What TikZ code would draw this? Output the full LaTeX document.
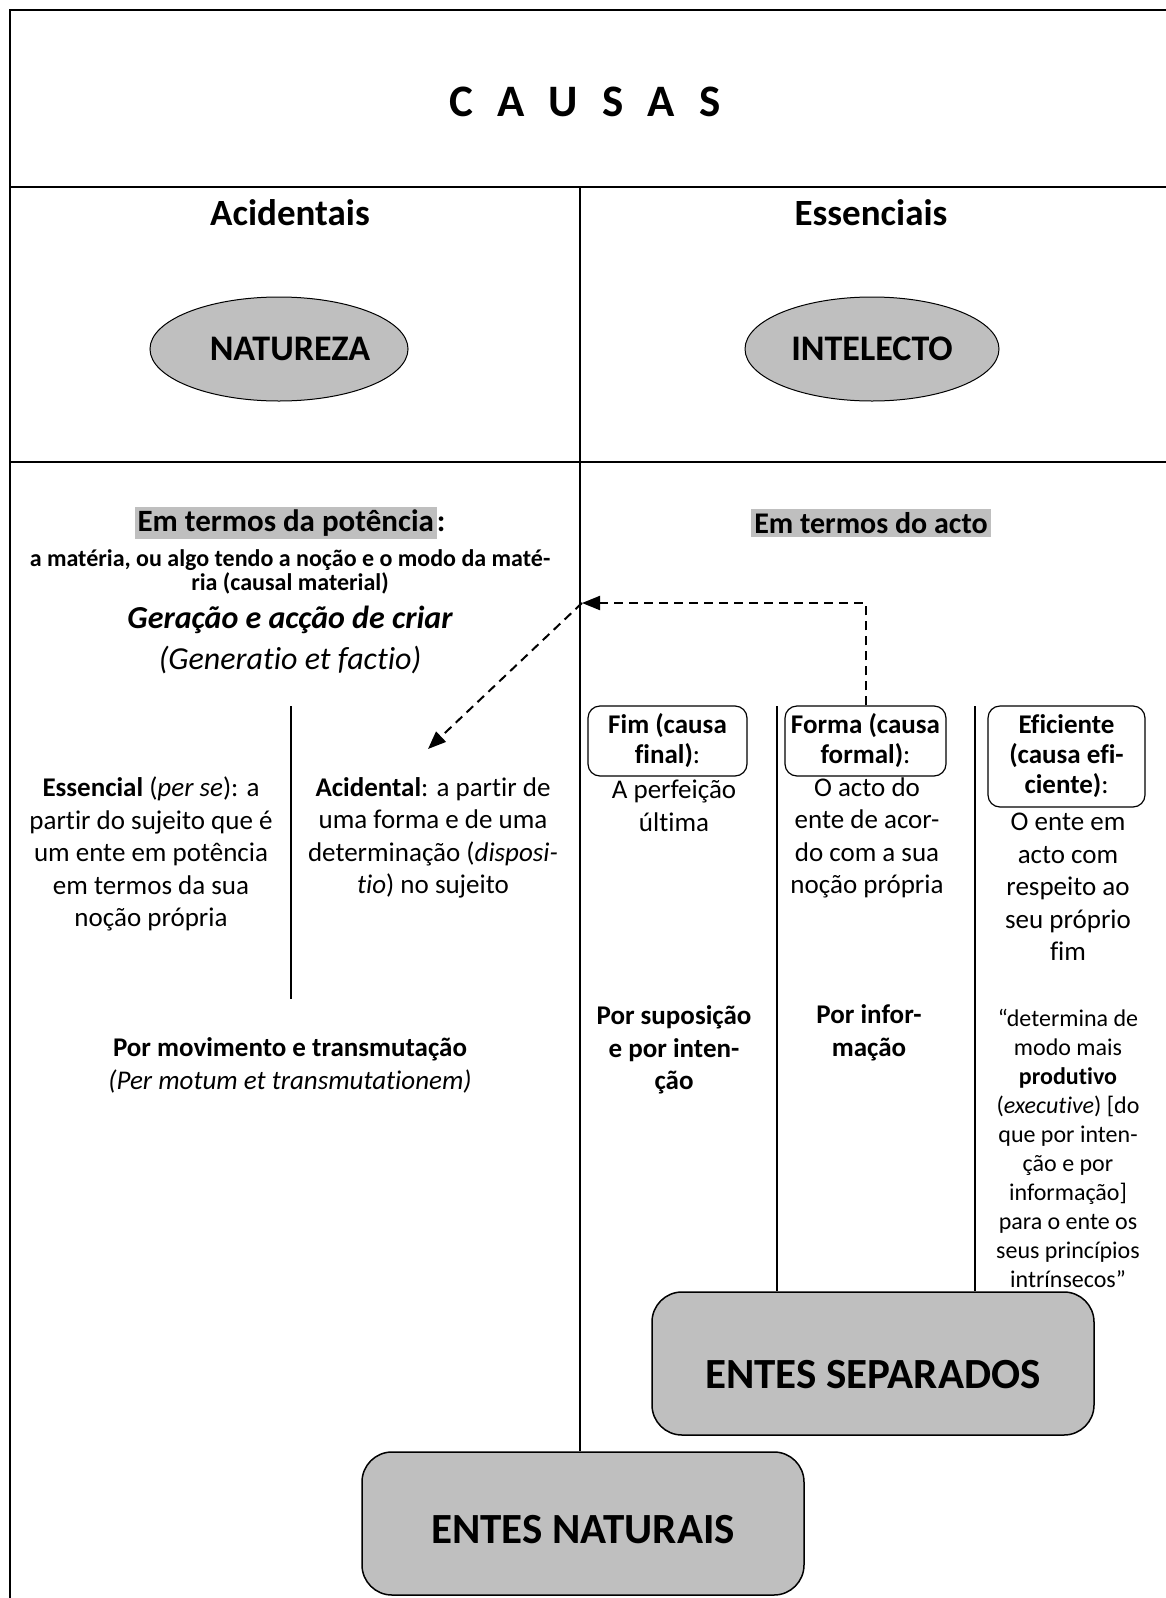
\documentclass[tikz,border=0pt]{standalone}
\usepackage{fontspec}
\setmainfont{Carlito}[Ligatures=NoCommon]
\usetikzlibrary{shapes.geometric,arrows.meta}
\definecolor{boxgray}{RGB}{191,191,191}
\newcommand{\fsz}[2]{\fontsize{#1}{#2}\selectfont}
\setlength{\fboxsep}{3pt}
\begin{document}
\begin{tikzpicture}[x=1pt,y=-1pt,
  txt/.style={align=center,inner sep=0pt,font=\fsz{27}{32.5}},
  qtxt/.style={align=center,inner sep=0pt,font=\fsz{24}{29}},
  head/.style={inner sep=0pt,font=\fsz{37}{40}\bfseries},
  oval/.style={ellipse,draw,line width=1pt,fill=boxgray,minimum width=254pt,minimum height=104pt,inner sep=0pt,font=\fsz{36}{40}\bfseries},
  causebox/.style={draw,line width=1.2pt,rounded corners=12pt,align=center,inner sep=0pt,font=\fsz{27}{30}},
  bigbox/.style={draw,line width=1.5pt,rounded corners=30pt,fill=boxgray,minimum width=442pt,minimum height=143pt,inner sep=0pt,font=\fsz{43}{47}\bfseries},
  frame/.style={line width=2pt},
  sepline/.style={line width=1.6pt},
  dasharrow/.style={line width=2pt,dash pattern=on 9pt off 6pt,-{Triangle[length=18pt,width=14pt]}},
]
\useasboundingbox (0,0) rectangle (1166,1598);
\clip (0,0) rectangle (1166,1598);
% frame
\draw[frame] (10,10) rectangle (1200,1650);
\draw[frame] (10,187) -- (1200,187);
\draw[frame] (10,462) -- (1200,462);
% title and headers
\node[inner sep=0pt,font=\fsz{45}{50}\bfseries] (title) at (585,102) {C\hspace{14pt} A\hspace{14pt} U\hspace{14pt} S\hspace{14pt} A\hspace{14pt} S};
\node[head] (acidentais) at (290,213) {Acidentais};
\node[head] (essenciais) at (871,213) {Essenciais};
\node[oval] (natureza) at (279,349) {\hspace*{22pt}NATUREZA};
\node[oval] (intelecto) at (872,349) {INTELECTO};
% left column
\node[inner sep=0pt,font=\fsz{31}{34}\bfseries] (potencia) at (290,523) {\colorbox{boxgray}{Em termos da potência}:};
\node[align=center,inner sep=0pt,font=\fsz{24}{24}\bfseries] (materia) at (290,572) {a matéria, ou algo tendo a noção e o modo da maté-\\ria (causal material)};
\node[inner sep=0pt,font=\fsz{32}{36}\bfseries\itshape] (geracao) at (290,620) {Geração e acção de criar};
\node[inner sep=0pt,font=\fsz{32}{36}\itshape] (generatio) at (290,660) {(Generatio et factio)};
\node[txt] (essencial) at (151,854) {\textbf{Essencial} (\textit{per se}): a\\partir do sujeito que é\\um ente em potência\\em termos da sua\\noção própria};
\node[txt] (acidental) at (433,838) {\textbf{Acidental}: a partir de\\uma forma e de uma\\determinação (\textit{disposi-}\\\textit{tio}) no sujeito};
\node[txt,font=\fsz{27}{32}\bfseries] (movimento) at (290,1049) {Por movimento e transmutação};
\node[txt,font=\fsz{27}{32}\itshape] (motum) at (290,1081) {(Per motum et transmutationem)};
% right column
\node[inner sep=0pt,font=\fsz{30}{34}\bfseries] (acto) at (871,523) {\colorbox{boxgray}{Em termos do acto}};
\node[causebox,minimum width=159pt,minimum height=70pt] (fim) at (667.5,741) {\textbf{Fim (causa}\\\textbf{final)}:};
\node[txt] (fimtxt) at (674,806) {A perfeição\\última};
\node[causebox,minimum width=161pt,minimum height=70pt] (forma) at (865.5,741) {\textbf{Forma (causa}\\\textbf{formal)}:};
\node[txt] (formatxt) at (867,838) {O acto do\\ente de acor-\\do com a sua\\noção própria};
\node[causebox,minimum width=157pt,minimum height=101pt] (eficiente) at (1066.5,756.5) {\textbf{Eficiente}\\\textbf{(causa efi-}\\\textbf{ciente)}:};
\node[txt] (eficientetxt) at (1068,887) {O ente em\\acto com\\respeito ao\\seu próprio\\fim};
\node[txt,font=\fsz{27}{32.5}\bfseries] (suposicao) at (674,1050) {Por suposição\\e por inten-\\ção};
\node[txt,font=\fsz{27}{32.5}\bfseries] (informacao) at (869,1033) {Por infor-\\mação};
\node[qtxt] (quote) at (1068,1148) {“determina de\\modo mais\\\textbf{produtivo}\\(\textit{executive}) [do\\que por inten-\\ção e por\\informação]\\para o ente os\\seus princípios\\intrínsecos”};
% big boxes
\node[bigbox,text height=50pt] (separados) at (873,1363.5) {ENTES SEPARADOS};
\node[bigbox,text height=40pt] (naturais) at (583,1523.5) {ENTES NATURAIS};
% separators
\coordinate (ctop) at (580,187);
\draw[frame] (ctop) -- (ctop |- naturais.north);
\coordinate (lstop) at (291,706);
\coordinate (lsbot) at (291,999);
\draw[sepline] (lstop) -- (lsbot);
\coordinate (cola) at (777,706);
\coordinate (colb) at (975,706);
\draw[sepline] (cola) -- (cola |- separados.north);
\draw[sepline] (colb) -- (colb |- separados.north);
% dashed arrows
\coordinate (pivot) at (582,603);
\coordinate (acidtip) at (428,749);
\draw[dasharrow] (forma.north) |- (pivot);
\draw[dasharrow] (pivot) -- (acidtip);
\end{tikzpicture}
\end{document}
